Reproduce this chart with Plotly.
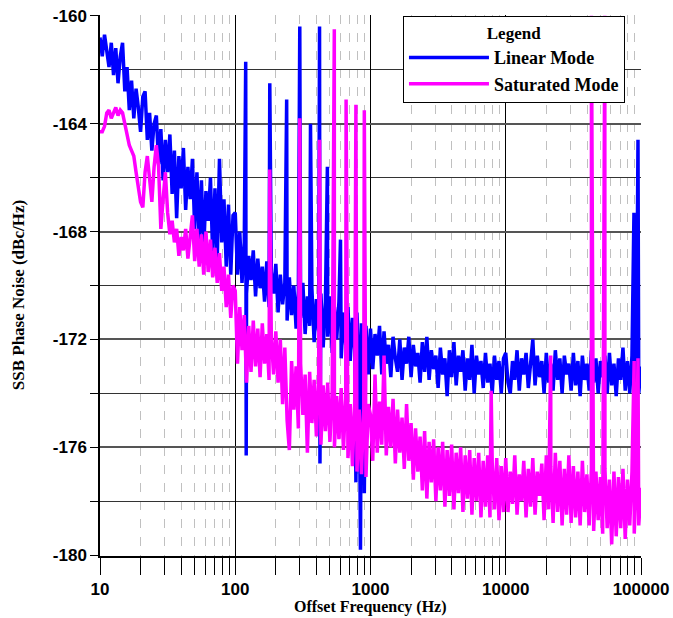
import plotly.graph_objects as go

# ---------------- data ----------------
# frequency grid: 60 points per decade (mantissas of 10**(k/60))
mantissa = [1.000, 1.039, 1.080, 1.122, 1.166, 1.212, 1.259, 1.308, 1.359, 1.413,
            1.468, 1.526, 1.585, 1.647, 1.711, 1.778, 1.848, 1.920, 1.995, 2.073,
            2.154, 2.239, 2.326, 2.418, 2.512, 2.610, 2.712, 2.818, 2.929, 3.043,
            3.162, 3.286, 3.415, 3.548, 3.687, 3.831, 3.981, 4.137, 4.299, 4.467,
            4.642, 4.823, 5.012, 5.208, 5.412, 5.623, 5.843, 6.072, 6.310, 6.557,
            6.813, 7.080, 7.356, 7.644, 7.943, 8.254, 8.577, 8.913, 9.261, 9.624]
decades = [10, 100, 1000, 10000]
freq_hz = [m * d for d in decades for m in mantissa] + [100000]

linear_db = [
    # 10 - 100 Hz
    -160.8, -161.5, -160.7, -161.3, -161.9, -161.0, -162.2, -161.2, -162.5, -161.5,
    -161.0, -162.8, -161.9, -163.5, -162.4, -163.8, -162.7, -163.4, -164.3, -163.0,
    -162.8, -164.6, -163.6, -165.0, -164.0, -163.7, -165.5, -164.2, -166.1, -164.6,
    -165.8, -164.4, -166.6, -165.0, -167.5, -165.2, -166.4, -164.9, -167.2, -165.6,
    -166.8, -165.3, -167.9, -165.8, -168.3, -166.1, -168.7, -166.5, -167.6, -166.0,
    -168.9, -166.4, -169.1, -165.3, -168.4, -166.8, -169.3, -167.0, -169.6, -167.4,
    # 100 - 1000 Hz
    -167.3, -169.6, -168.0, -169.9, -168.4, -170.3, -168.9, -169.8, -168.7, -170.4,
    -169.0, -170.1, -169.3, -170.6, -169.1, -170.8, -169.5, -170.3, -169.2, -171.0,
    -169.6, -170.7, -169.9, -171.3, -169.7, -171.1, -170.0, -171.6, -170.2, -171.2,
    -169.9, -171.8, -170.4, -171.5, -170.1, -172.1, -170.5, -171.7, -170.3, -172.3,
    -170.6, -171.9, -170.4, -172.5, -170.8, -172.0, -170.6, -172.7, -171.0, -172.2,
    -170.8, -172.8, -171.2, -172.4, -171.0, -173.0, -171.4, -172.7, -171.5, -173.3,
    # 1 k - 10 kHz
    -171.6, -173.1, -171.8, -172.6, -171.5, -173.3, -171.7, -172.9, -172.2, -173.4,
    -171.9, -172.7, -173.2, -172.0, -173.5, -172.3, -172.9, -171.9, -173.4, -172.2,
    -173.0, -172.5, -173.6, -172.1, -173.2, -171.9, -173.5, -172.4, -173.1, -172.6,
    -173.8, -172.3, -173.3, -172.7, -174.1, -172.4, -173.4, -172.1, -173.7, -172.6,
    -173.2, -172.4, -173.9, -172.7, -173.5, -172.2, -174.0, -172.6, -173.3, -172.8,
    -173.8, -172.5, -173.6, -172.9, -174.0, -172.6, -173.5, -172.8, -174.0, -172.7,
    # 10 k - 100 kHz
    -172.5, -173.6, -174.0, -172.8, -173.5, -172.4, -173.9, -172.7, -173.3, -172.5,
    -173.8, -172.9, -172.0, -173.7, -172.6, -173.4, -172.8, -174.0, -172.5, -173.6,
    -172.9, -173.9, -172.4, -173.5, -172.7, -174.0, -172.6, -173.3, -172.9, -173.9,
    -172.5, -173.7, -172.8, -174.1, -172.6, -173.5, -172.9, -173.9, -172.4, -173.6,
    -172.7, -174.0, -172.8, -173.4, -172.6, -174.0, -172.5, -173.7, -172.9, -174.1,
    -172.7, -173.5, -172.3, -173.9, -172.8, -174.0, -172.6, -173.8, -172.9, -174.0,
    -173.0,
]

saturated_db = [
    # 10 - 100 Hz
    -164.3, -164.3, -164.1, -163.6, -163.5, -163.8, -163.6, -163.4, -163.7, -163.5,
    -163.6, -164.0, -164.5, -164.8, -165.0, -165.2, -165.8, -166.3, -166.9, -167.1,
    -165.8, -165.2, -166.2, -166.9, -165.6, -164.8, -165.6, -167.9, -166.8, -165.8,
    -167.3, -168.1, -167.6, -168.4, -167.9, -168.9, -168.2, -168.7, -167.9, -169.0,
    -168.2, -167.4, -169.1, -167.9, -169.3, -168.1, -169.6, -168.0, -169.5, -168.3,
    -169.7, -168.6, -169.9, -168.8, -170.2, -169.3, -170.8, -169.6, -171.2, -170.0,
    # 100 - 1000 Hz
    -170.2, -172.9, -170.8, -172.4, -171.1, -173.6, -171.5, -173.2, -171.3, -173.0,
    -171.6, -173.4, -171.4, -172.9, -171.8, -173.5, -171.9, -173.3, -171.7, -173.6,
    -172.0, -174.4, -172.3, -175.0, -176.1, -172.8, -174.6, -173.0, -175.3, -172.9,
    -174.8, -173.3, -176.2, -173.2, -175.1, -173.5, -175.6, -173.4, -175.9, -173.7,
    -175.4, -173.6, -175.8, -173.9, -176.0, -174.1, -175.7, -173.8, -176.1, -174.2,
    -176.4, -174.4, -176.7, -174.3, -176.9, -174.6, -177.0, -174.5, -177.1, -174.4,
    # 1 k - 10 kHz
    -174.8, -176.5, -173.3, -176.2, -174.3, -175.9, -172.6, -176.3, -174.5, -176.0,
    -174.2, -176.6, -174.6, -176.2, -174.9, -176.8, -174.4, -176.5, -175.1, -177.2,
    -175.3, -176.9, -175.6, -177.6, -175.4, -177.9, -175.8, -177.3, -175.7, -178.0,
    -176.0, -177.6, -175.8, -178.2, -176.1, -177.8, -175.9, -178.3, -176.2, -177.7,
    -176.0, -178.4, -176.3, -177.9, -176.1, -178.5, -176.4, -178.0, -176.2, -178.6,
    -176.5, -178.2, -176.3, -178.6, -176.6, -178.3, -176.4, -178.7, -176.7, -178.4,
    # 10 k - 100 kHz
    -176.4, -178.4, -176.9, -178.1, -176.3, -178.5, -177.0, -178.0, -176.5, -178.6,
    -176.8, -178.2, -176.4, -178.5, -176.9, -177.8, -176.6, -178.7, -176.3, -178.3,
    -176.7, -178.8, -176.2, -178.4, -176.5, -178.9, -176.8, -178.5, -176.3, -178.8,
    -176.7, -178.6, -176.9, -178.9, -176.5, -178.4, -177.0, -178.9, -176.8, -179.1,
    -176.9, -178.7, -177.1, -179.2, -176.8, -179.0, -177.2, -179.6, -176.9, -179.3,
    -177.1, -179.0, -176.8, -179.4, -177.2, -178.9, -176.9, -179.2, -177.0, -178.9,
    -177.5,
]

# discrete spurs (frequency in Hz, level in dBc/Hz)
linear_spur_hz = [119.5, 120.5, 180, 240, 300, 360, 420, 423, 480, 600, 780, 843, 900, 88700, 95000]
linear_spur_db = [-161.7, -176.3, -162.5, -163.1, -160.4, -164.0, -160.4, -176.6, -165.6, -168.3,
                  -177.3, -179.8, -177.7, -167.3, -164.6]

saturated_spur_hz = [180, 300, 420, 540, 660, 780, 900, 7800, 21500, 43000, 54000, 89000, 95000]
saturated_spur_db = [-165.7, -163.8, -164.6, -160.5, -163.1, -163.3, -163.5, -173.9, -172.6,
                     -160.0, -160.0, -172.8, -172.7]

y_tick_vals = [-180, -176, -172, -168, -164, -160]
y_tick_text = ["-180", "-176", "-172", "-168", "-164", "-160"]
x_tick_vals = [10, 100, 1000, 10000, 100000]
x_tick_text = ["10", "100", "1000", "10000", "100000"]


def merged(f_base, v_base, f_sp, v_sp):
    pts = sorted(list(zip(f_base, v_base)) + list(zip(f_sp, v_sp)), key=lambda p: p[0])
    return [p[0] for p in pts], [p[1] for p in pts]


lin_x, lin_y = merged(freq_hz, linear_db, linear_spur_hz, linear_spur_db)
sat_x, sat_y = merged(freq_hz, saturated_db, saturated_spur_hz, saturated_spur_db)

# ---------------- figure ----------------
fig = go.Figure()
fig.add_trace(go.Scatter(x=lin_x, y=lin_y, mode="lines", name="Linear Mode",
                         line=dict(color="#0000ff", width=3.5)))
fig.add_trace(go.Scatter(x=sat_x, y=sat_y, mode="lines", name="Saturated Mode",
                         line=dict(color="#ff00ff", width=3.5)))

serif = "Liberation Serif, Times New Roman, serif"
tick_font = dict(family="Liberation Sans, Arial, sans-serif", size=17, color="black", weight="bold")

fig.update_layout(
    width=673, height=618,
    margin=dict(l=100, r=32, t=15, b=62),
    paper_bgcolor="white", plot_bgcolor="white",
    showlegend=True,
    legend=dict(
        x=0.56, y=0.998, xanchor="left", yanchor="top",
        bgcolor="white", bordercolor="black", borderwidth=1,
        font=dict(family=serif, size=18, color="black", weight="bold"),
        itemwidth=80, tracegroupgap=0,
        title=dict(text="Legend", side="top center",
                   font=dict(family=serif, size=17, color="black", weight="bold")),
    ),
    xaxis=dict(
        type="log", range=[1, 5], automargin=False,
        tickvals=x_tick_vals, ticktext=x_tick_text, tickfont=tick_font,
        showgrid=True, gridcolor="black", gridwidth=1,
        ticks="outside", ticklen=17, tickcolor="black", tickwidth=1,
        showline=True, linecolor="black", linewidth=1.5,
        minor=dict(dtick="D1", showgrid=True, gridcolor="#c0c0c0", griddash="dash",
                   gridwidth=1.2, ticks="outside", ticklen=17, tickcolor="black"),
        zeroline=False,
    ),
    yaxis=dict(
        range=[-180.03, -159.97], automargin=False,
        tickvals=y_tick_vals, ticktext=y_tick_text, tickfont=tick_font,
        showgrid=True, gridcolor="#555555", gridwidth=1.5,
        ticks="outside", ticklen=8, tickcolor="black",
        showline=True, linecolor="black", linewidth=1.5,
        minor=dict(dtick=2, showgrid=True, gridcolor="#333333", gridwidth=1.2,
                   ticks="outside", ticklen=8, tickcolor="black"),
        zeroline=False,
    ),
    annotations=[
        dict(text="Offset Frequency (Hz)", xref="paper", yref="paper", x=0.5, y=-0.094,
             xanchor="center", yanchor="middle", showarrow=False,
             font=dict(family=serif, size=16, color="black", weight="bold")),
        dict(text="SSB Phase Noise (dBc/Hz)", xref="paper", yref="paper", x=-0.1516, y=0.482,
             xanchor="center", yanchor="middle", showarrow=False, textangle=-90,
             font=dict(family=serif, size=17, color="black", weight="bold")),
    ],
)

# remove the page's default body margin so the figure sits at the window origin
fig.write_html("out.html", config={"displayModeBar": False},
               post_script="document.body.style.margin='0';")
